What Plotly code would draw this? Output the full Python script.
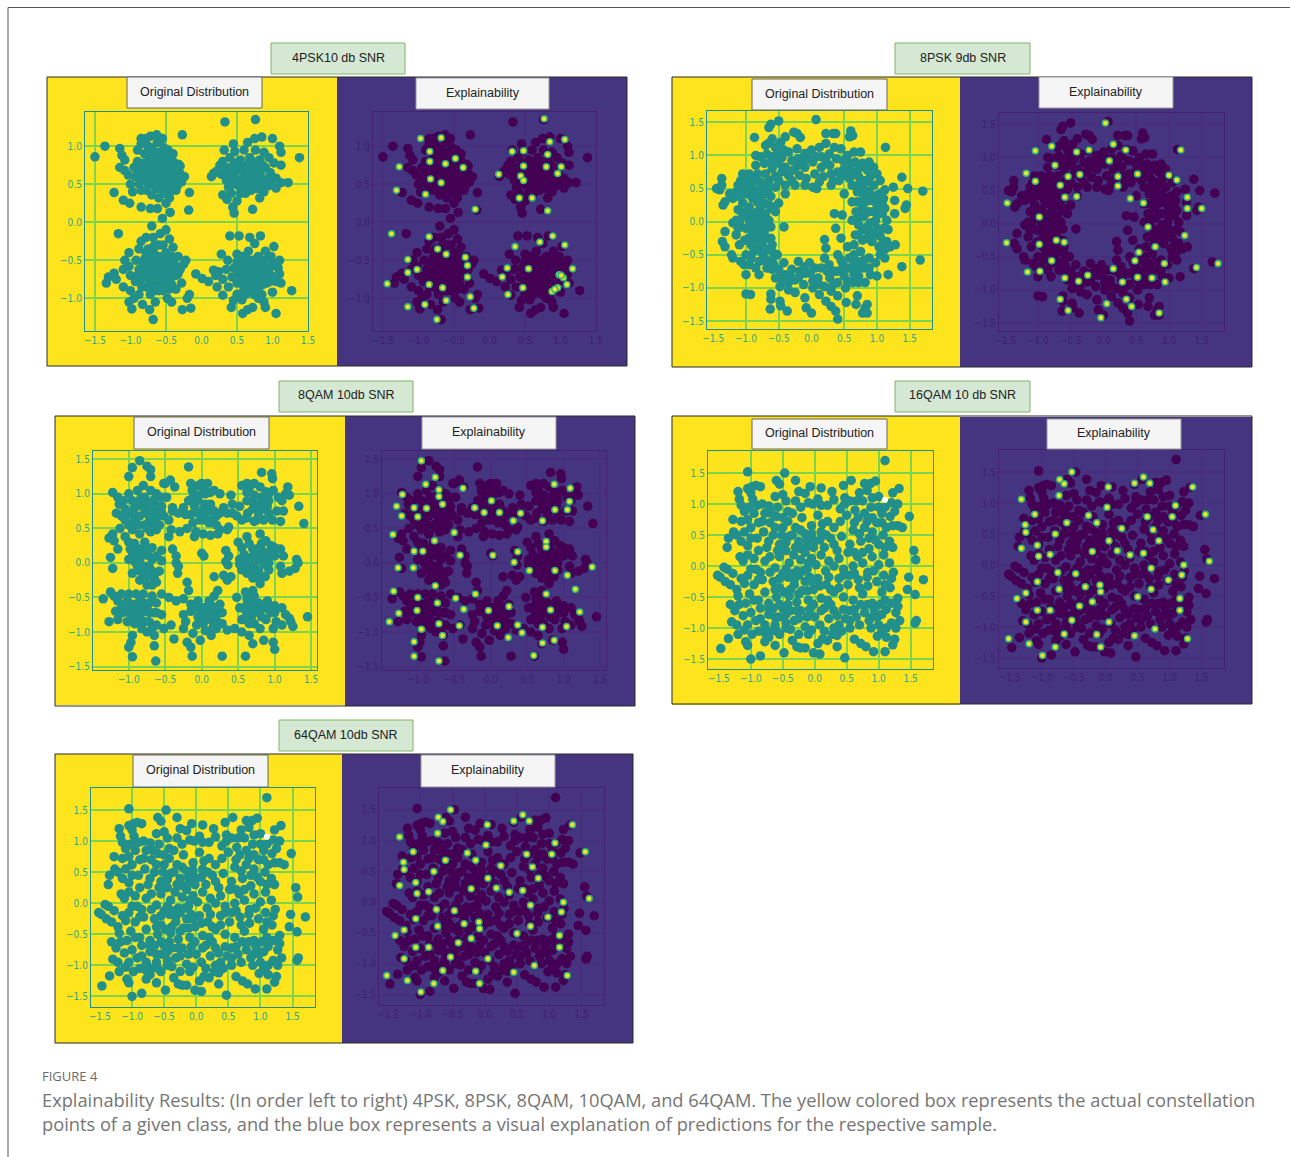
import plotly.graph_objects as go

# ---------- Data (x, y) ----------
PSK4_POINTS = [
(-1.5,.86),(-1.36,1.0),(-.27,1.15),(-1.23,.39),(-1.1,.29),(-1.01,.25),(-.85,.2),(-.72,.18),(-.62,.18),(-.44,.13),(-.55,.05),(-.18,.16),(-.17,.39),
(-1.15,.97),(-1.12,.88),(-1.08,.82),(-1.15,.72),(-1.08,.68),(-1.03,.62),(-1.0,.5),(-.97,.4),(-.9,.95),(-.9,.8),(-.95,.72),(-.93,.6),(-.88,.5),(-.85,.42),(-.85,1.1),(-.85,1.03),
(-.78,1.1),(-.75,1.0),(-.8,.9),(-.8,.78),(-.82,.66),(-.8,.55),(-.77,.42),(-.72,1.13),(-.7,.98),(-.72,.86),(-.73,.74),(-.72,.62),(-.7,.5),(-.7,.36),(-.63,1.15),(-.62,1.05),(-.64,.92),(-.63,.8),(-.65,.68),(-.62,.56),(-.63,.44),(-.6,.32),
(-.55,1.1),(-.53,.98),(-.56,.86),(-.55,.75),(-.54,.63),(-.56,.5),(-.52,.38),(-.5,.25),(-.47,.95),(-.46,.82),(-.47,.72),(-.46,.6),(-.47,.47),(-.45,.32),(-.4,.9),(-.38,.78),(-.39,.65),(-.38,.52),(-.36,.42),(-.32,.76),(-.3,.64),(-.28,.53),(-.3,.74),(-.24,.6),
(.33,1.32),(.76,1.35),(.32,.95),(.17,.64),(.14,.6),(.21,.67),(.26,.75),(.3,.8),(.28,.63),(.35,.55),(.35,.72),(.4,.85),(.4,.65),(.38,.46),(.3,.36),(.36,.3),(.42,.38),(.45,1.03),(.47,.93),(.47,.78),(.47,.58),(.44,.2),(.5,.28),(.46,.12),
(.52,.7),(.55,.82),(.52,.48),(.55,.38),(.6,.95),(.62,.75),(.6,.6),(.62,.5),(.62,.38),(.65,1.05),(.68,.85),(.7,.68),(.68,.55),(.7,.42),(.75,1.1),(.76,.95),(.75,.75),(.77,.6),(.76,.45),(.72,.17),(.82,.82),(.83,.65),(.83,.52),(.82,.32),(.88,.92),(.9,.72),(.9,.55),(.88,.4),(.85,1.12),(.95,.85),(.97,.65),(.95,.48),(1.02,.78),(1.0,1.1),(1.05,.58),(1.05,.45),(1.1,1.0),(1.12,.92),(1.12,.75),(1.12,.52),(1.22,.52),(1.38,.85),
(-1.17,-.15),(-1.34,-.8),(-1.31,-.72),(-1.23,-.67),(-1.2,-.75),(-1.1,-.62),(-1.08,-.5),(-1.1,-.85),(-1.02,-.4),(-1.02,-.58),(-1.0,-.7),(-1.0,-.9),(-1.02,-1.05),(-.95,-1.0),(-.98,-1.14),(-.93,-.78),(-.92,-.5),(-.88,-.35),(-.88,-.62),(-.88,-.95),(-.85,-.75),(-.85,-.25),(-.83,-1.08),(-.8,-.48),(-.8,-.62),(-.78,-.85),(-.78,-.2),(-.73,-1.15),(-.75,-.35),(-.72,-.7),(-.72,-.95),(-.7,-.55),(-.68,-.2),(-.68,-.38),(-.68,-.83),(-.7,-.05),(-.68,-1.28),(-.65,-1.05),(-.63,-.62),(-.62,-.48),(-.6,-.75),(-.6,-.9),(-.6,-.3),(-.58,-.15),(-.55,-.55),(-.55,-.68),(-.52,-.8),(-.5,-.4),(-.5,-.1),(-.48,-1.0),(-.48,-.62),(-.45,-.22),(-.45,-.5),(-.45,-.88),(-.42,-.72),(-.4,-.33),(-.42,-1.05),(-.38,-.55),(-.36,-.88),(-.33,-.45),(-.33,-.68),(-.3,-.62),(-.28,-.8),(-.25,-.55),(-.22,-.5),(-.2,-1.0),(-.17,-.95),(-.15,-1.13),(-.27,-1.15),
(-.08,-.68),(.01,-.74),(.1,-.78),(.2,-.7),(.17,-.63),(.24,-.65),(.22,-.85),(.3,-.75),(.28,-.42),(.3,-.96),(.37,-.5),(.35,-.62),(.38,-.85),(.4,-.18),(.43,-.72),(.46,-.6),(.45,-1.03),(.42,-1.12),(.5,-.42),(.5,-.52),(.5,-.8),(.5,-.95),(.53,-.18),(.55,-.65),(.58,-.72),(.57,-1.02),(.58,-1.2),(.62,-.45),(.62,-.58),(.62,-.85),(.62,-.95),(.65,-1.15),(.68,-.2),(.68,-.66),(.7,-.78),(.72,-.5),(.72,-.9),(.72,-1.12),(.75,-.28),(.77,-.6),(.78,-.7),(.78,-.85),(.8,-.45),(.8,-1.0),(.83,-.18),(.85,-.55),(.85,-.73),(.85,-.95),(.88,-1.05),(.9,-.38),(.92,-.62),(.92,-.8),(.9,-1.12),(.98,-.45),(.98,-.7),(1.0,-.92),(1.02,-.32),(1.02,-.55),(1.05,-.78),(1.08,-.6),(1.1,-.5),(1.1,-.68),(1.12,-.8),(1.05,-1.2),(1.27,-.9),
]
PSK4_CORE = [
(-.76,.92),(-.68,.8),(-.76,.66),(-.68,.68),(-.76,.52),(-.66,.56),(-.58,.92),(-.58,.68),(-.58,.44),(-.5,.8),(-.5,.68),(-.5,.55),(-.5,.42),(-.42,.85),(-.42,.7),(-.42,.58),(-.42,.42),(-.68,.92),(-.6,.74),(-.52,.9),(-.34,.6),(-.34,.48),(-.86,.72),(-.86,.6),(-.9,.66),
(.56,.72),(.56,.56),(.58,.44),(.66,.64),(.66,.46),(.72,.8),(.72,.6),(.72,.5),(.8,.7),(.8,.58),(.8,.44),(.86,.75),(.86,.48),(.94,.58),(.48,.66),(.44,.5),(.5,.55),(.6,.68),(.42,.72),(.98,.55),
(-.9,-.7),(-.82,-.55),(-.78,-.72),(-.78,-.4),(-.72,-.62),(-.72,-.45),(-.72,-.8),(-.66,-.7),(-.66,-.55),(-.66,-.3),(-.66,-.9),(-.6,-.6),(-.6,-.45),(-.6,-.82),(-.54,-.72),(-.54,-.45),(-.54,-.3),(-.54,-.9),(-.48,-.7),(-.48,-.52),(-.48,-.8),(-.42,-.62),(-.42,-.45),(-.42,-.82),(-.36,-.7),(-.82,-.65),(-.84,-.85),
(.5,-.62),(.52,-.72),(.58,-.52),(.58,-.62),(.58,-.82),(.58,-.92),(.64,-.68),(.64,-.76),(.64,-.52),(.68,-.88),(.7,-.58),(.7,-.72),(.74,-.68),(.74,-.8),(.74,-.95),(.8,-.52),(.8,-.65),(.8,-.78),(.8,-.9),(.86,-.62),(.86,-.82),(.9,-.7),(.9,-.5),(.96,-.6),(.96,-.78),(.56,-.45),(.66,-.38),
]
PSK4_HIGHLIGHTS = [
(-.97,1.1),(-.84,.93),(-.84,.8),(-.68,1.11),(-.62,.77),(-.83,.57),(-.9,.37),(-.48,.84),(-.37,.72),(-.68,.52),(-1.31,.42),(-1.27,.73),(-.2,.17),
(.48,.94),(.48,.74),(.44,.61),(.48,.55),(.85,1.06),(1.06,1.09),(.82,.89),(.8,.73),(1.01,.73),(.96,.64),(.13,.63),(.42,.32),(.6,.32),(.77,1.36),(.82,.15),(.32,.93),
(-1.38,-.15),(-.85,-.19),(-.73,-.35),(-.61,-.42),(-.34,-.46),(-.31,-.57),(-.31,-.72),(-1.15,-.49),(-1.15,-.66),(-1.02,-.62),(-1.44,-.81),(-.85,-.82),(-.66,-.86),(-.61,-1.03),(-.91,-1.08),(-1.15,-1.11),(-.27,-.98),(-.22,-1.13),(-.74,-1.28),
(.89,-.18),(1.06,-.3),(.36,-.32),(.71,-.26),(.25,-.6),(.18,-.72),(.55,-.61),(.98,-.69),(1.04,-.73),(.96,-.86),(.88,-.91),(1.09,-.82),(1.17,-.61),(.26,-.95),(.47,-.86),(1.01,-.7),(.92,-.88),
]

PSK8_POINTS = [
(-.5,1.52),(.07,1.54),(-.65,1.42),(-.62,1.47),(-.87,1.27),(-.7,1.15),(-.66,1.18),(-.6,1.25),(-.55,1.12),(-.47,1.2),(-.4,1.28),(-.27,1.35),(-.22,1.33),(-.17,1.27),(.22,1.33),(.33,1.33),(.37,1.33),(.6,1.37),(.63,1.3),(.58,1.28),(1.13,1.12),
(-.85,1.0),(-.78,.98),(-.72,.88),(-.85,.85),(-.95,.72),(-.82,.72),(-.7,.72),(-.6,.98),(-.55,1.0),(-.5,.88),(-.6,.8),(-.55,.68),(-.45,.97),(-.42,1.08),(-.35,1.05),(-.4,.82),(-.35,.7),(-.3,.92),(-.27,.78),(-.22,1.1),(-.2,.95),(-.2,.85),(-.18,.7),(-.1,1.03),(-.1,.82),(-.08,.65),(.0,1.08),(.02,.9),(.05,.72),(.12,1.12),(.15,.98),(.15,.82),(.18,.68),(.22,1.18),(.27,1.02),(.28,.85),(.3,.72),(.35,1.12),(.38,.95),(.4,.75),(.45,1.1),(.48,.92),(.5,.8),(.55,1.0),(.6,.88),(.65,1.05),(.67,.9),(.65,.72),(.75,1.05),(.78,.88),(.72,.68),(.85,.78),(.82,.62),(.95,.82),(.9,.68),(1.0,.72),(1.05,.62),(-.4,.55),(-.25,.55),(-.1,.55),(.02,.52),(.08,.5),(.3,.55),(.42,.62),
(-1.05,.72),(-1.08,.62),(-1.12,.55),(-1.0,.6),(-.9,.58),(-.78,.6),(-.65,.62),(-.55,.52),(-.4,.42),(-1.37,.65),(-1.37,.55),(-1.45,.5),(-1.4,.48),(-1.25,.42),(-1.32,.3),(-1.35,.25),(-1.15,.45),(-1.2,.35),(-1.05,.5),(-1.1,.38),(-1.12,.18),(-1.05,.28),(-1.0,.42),(-.92,.48),(-.9,.35),(-.95,.22),(-.82,.47),(-.83,.3),(-.82,.15),(-.72,.42),(-.72,.28),(-.7,.12),(-.62,.38),(-.6,.2),(-.58,.22),(-.55,.15),(-.5,.28),(-1.2,-.02),(-1.15,.02),(-1.05,.08),(-.95,.02),(-.85,.02),(-.75,-.02),(-.65,.02),
(-1.32,-.15),(-1.36,-.3),(-1.32,-.38),(-1.22,-.5),(-1.2,-.55),(-1.15,-.2),(-1.12,-.1),(-1.1,-.35),(-1.08,-.6),(-1.0,-.1),(-1.02,-.28),(-1.0,-.5),(-1.03,-.65),(-1.0,-.8),(-.9,-.18),(-.92,-.35),(-.92,-.55),(-.85,-.08),(-.83,-.28),(-.83,-.42),(-.85,-.7),(-.8,-.8),(-.72,-.15),(-.75,-.35),(-.72,-.55),(-.68,-.7),(-.62,-.08),(-.62,-.25),(-.6,-.45),(-.6,-.58),(-.6,-.72),(-.55,-.85),(-.42,-.08),
(-1.0,-1.09),(-.93,-1.1),(-.62,-1.09),(-.62,-1.17),(-.63,-1.32),(-.47,-1.27),(-.48,-1.2),(-.37,-1.35),(-.35,-1.03),(-.48,-.98),(-.5,-.72),(-.42,-.62),(-.4,-.8),(-.35,-.92),(-.3,-.72),(-.25,-1.07),(-.25,-.88),(-.2,-.6),(-.18,-.75),(-.12,-.95),(-.1,-1.15),(-.08,-1.3),(.0,-1.38),(-.03,-.62),(-.02,-.78),(.02,-1.0),(.1,-.85),(.12,-1.1),(.15,-.7),(.2,-.55),(.2,-.98),(.22,-1.2),(.27,-.65),(.28,-.85),(.3,-1.05),(.3,-1.28),(.4,-1.47),(.37,-1.35),(.38,-.75),(.4,-.5),(.4,-.92),(.4,-1.12),(.48,-.65),(.5,-.82),(.52,-1.0),(.53,-1.22),(.55,-.38),(.58,-.55),(.62,-.72),(.63,-.92),(.68,-1.25),(.7,-1.12),(.7,-.6),(.72,-.82),(.75,-.45),(.78,-1.38),(.82,-1.3),(.85,-1.25),(.85,-1.38),(.8,-.7),(.82,-.92),(.88,-.55),(.9,-.8),(.98,-.62),
(1.0,-.82),(1.17,-.8),(1.38,-.68),(1.66,-.58),(.45,-.25),(.37,-.1),(.2,-.27),(.22,-.4),(.35,.12),(.47,.1),(.5,.42),
(.62,.55),(.7,.45),(.62,.3),(.68,.15),(.62,.02),(.72,-.05),(.67,-.2),(.65,-.35),(.78,.52),(.8,.38),(.78,.22),(.8,.08),(.78,-.12),(.78,-.28),(.85,.6),(.88,.45),(.9,.32),(.88,.15),(.9,-.02),(.88,-.15),(.92,-.3),(.95,.55),(1.0,.4),(1.0,.25),(1.02,.12),(1.0,-.1),(1.05,-.22),(1.03,-.38),(1.12,.48),(1.1,.35),(1.12,.2),(1.15,.02),(1.17,-.12),(1.15,-.3),(1.05,-.5),(1.12,-.55),(1.12,-.42),(1.2,-.38),(1.28,-.35),(1.27,.12),(1.27,.32),(1.25,.52),(1.38,.67),(1.45,.25),(1.43,.2),(1.47,.5),(1.7,.46),
]
PSK8_CORE = [
(-.5,1.05),(-.68,1.02),(-.62,.9),(-.45,.75),(-.5,.62),(-.3,.62),(-.12,.92),(-.05,.95),(.08,.98),(.22,.92),(.12,.6),(.33,.62),(.48,.7),(.58,.65),(.58,.78),(.72,.8),(.88,.9),
(-.88,.65),(-.72,.52),(-.65,.5),(-.95,.55),(-.88,.42),(-.78,.38),(-.78,.22),(-.65,.25),(-.9,.12),(-1.0,.15),(-.75,.08),(-1.1,-.02),(-.95,-.08),(-.8,-.1),(-.68,-.08),(-.78,-.22),(-.95,-.25),(-.88,-.45),(-.75,-.48),(-.68,-.42),(-.68,-.25),(-.8,-.6),(-.95,-.65),(-.7,-.6),(-.6,-.35),(-.52,-.5),(-.58,-.65),
(-.5,-.85),(-.42,-.9),(-.32,-.82),(-.2,-.85),(-.1,-.78),(.05,-.7),(-.1,-.68),(.02,-.9),(.12,-.95),(.24,-.75),(.33,-.95),(.33,-.75),(.45,-.75),(.45,-.58),(.55,-.7),(.55,-.9),(.65,-.8),(.7,-.72),(.75,-.62),(.65,-.5),(.8,-.58),(.88,-.7),(.65,-.62),(.72,-.92),
(.72,.55),(.7,.3),(.72,.12),(.7,.02),(.72,-.2),(.82,.3),(.85,.45),(.95,.15),(.98,.02),(.85,-.08),(.85,-.25),(.95,-.2),(.95,.32),(1.08,.12),(1.08,.28),(1.05,.42),(1.1,-.1),(1.1,-.3),
]
PSK8_HIGHLIGHTS = [
(-1.04,1.1),(-.79,1.17),(-.41,1.08),(-.22,1.11),(.15,1.2),(.34,1.11),(1.18,1.11),(.09,.95),(-.74,.88),(-1.18,.76),(-1.04,.64),(-.66,.58),(-.54,.71),(-.36,.74),(.22,.71),(.22,.57),(.52,.75),(1.0,.73),(1.12,.66),(-.59,.4),(-.41,.41),(-1.47,.31),(1.28,.4),(1.28,.23),(.61,.31),(.41,.38),(-.98,.1),(1.5,.23),(1.24,-.18),(.68,-.05),(-1.48,-.29),(-.98,-.31),(-.72,-.25),(-.6,-.28),(.79,-.35),(.54,-.43),(-.79,-.56),(.48,-.56),(.93,-.6),(1.75,-.6),(1.42,-.66),(.15,-.68),(-1.16,-.73),(-.97,-.72),(-.59,-.82),(-.38,-.87),(-.24,-.78),(.29,-.88),(.52,-.81),(.74,-.82),(.94,-.88),(.35,-1.14),(.43,-1.25),(.05,-1.21),(-.54,-1.31),(-.66,-1.14),(-.04,-1.42),(.85,-1.35),(.03,1.52),
]

QAM8_POINTS = [
(-.85,1.48),(-.95,1.38),(-.75,1.4),(-.7,1.35),(-1.0,1.25),(-.7,1.25),(-.18,1.39),(.82,1.31),(.96,1.29),(.97,1.22),(-.43,1.2),(-.52,1.15),(-.37,1.1),
(-1.22,1.02),(-1.15,.95),(-1.13,.85),(-1.07,.9),(-1.05,.78),(-1.0,1.0),(-.95,.9),(-.92,.8),(-.9,.68),(-.88,1.05),(-.83,.95),(-.8,1.12),(-.75,.85),(-.77,.72),(-.72,.6),(-.78,.55),(-.7,1.05),(-.65,.92),(-.65,.75),(-.62,.65),(-.58,.55),(-.62,1.0),(-.55,.82),(-.52,.68),(-.5,1.15),(-.48,.95),(-.45,.62),(-.4,.8),(-.4,.75),(-1.17,.72),(-1.1,.68),(-1.05,.62),(-1.0,.55),(-.95,.48),(-.87,.55),(-.85,.42),(-.7,.45),(-.62,.48),
(-.15,1.15),(-.13,1.05),(-.18,.9),(-.12,.95),(-.05,1.12),(-.05,.9),(.0,1.15),(.03,1.05),(.05,.85),(.08,1.15),(.12,1.02),(.17,1.05),(.25,1.0),(-.25,.8),(-.32,.72),(-.22,.7),(-.15,.7),(-.12,.58),(-.05,.72),(-.02,.62),(.05,.7),(.1,.75),(.1,.58),(.17,.75),(.2,.55),(.25,.72),(.25,.48),(.3,.8),(.35,.72),(.35,.48),(.42,.85),(.42,.72),(.4,.98),(.37,.52),
(.55,1.12),(.62,1.15),(.65,1.05),(.72,1.15),(.72,.98),(.8,1.1),(.82,.95),(.88,1.03),(.92,.9),(.98,1.05),(1.05,.95),(.48,.68),(.52,.82),(.55,.62),(.62,.9),(.63,.72),(.7,.78),(.72,.6),(.78,.85),(.78,.68),(.85,.78),(.85,.62),(.92,.72),(.97,.62),(1.03,.75),(1.1,.9),(1.12,.75),(1.18,1.1),(1.2,.98),(1.15,1.0),(1.33,.82),(1.4,.57),(1.08,.6),
(-1.27,.36),(-1.22,.42),(-1.2,.32),(-1.15,.2),(-1.25,.08),(-1.12,.5),(-1.05,.38),(-1.0,.3),(-.95,.15),(-.92,.02),(-1.0,.05),(-.92,.28),(-.85,.2),(-.85,.05),(-.85,-.12),(-.78,.3),(-.77,.12),(-.78,-.05),(-.75,-.2),(-.68,.22),(-.68,.05),(-.68,-.12),(-.62,-.28),(-.65,-.22),(-1.22,-.08),(-.95,-.15),(-.85,-.25),(-.55,.18),(-.55,.03),(-.58,-.12),(-.4,.2),(-.35,.1),(-.35,.0),(-.32,-.05),(-.33,-.15),(-.45,.38),(-.42,.48),(-.3,.45),(-.2,.5),(-.1,.38),(-.08,.45),(.02,.42),(.12,.4),(.22,.42),
(.0,.14),(.03,.1),(.33,.18),(.37,.1),(.33,.02),(.36,-.03),(.35,-.25),(.4,-.2),(.5,.3),(.55,.22),(.52,.05),(.52,-.02),(.55,-.1),(.58,.12),(.62,.38),(.65,.28),(.68,.08),(.68,-.05),(.7,-.22),(.75,.2),(.78,.05),(.78,-.12),(.8,.42),(.82,.28),(.85,.15),(.85,-.02),(.88,.32),(.92,.15),(.92,0),(.95,.25),(1.0,.1),(1.0,.22),(1.08,.2),(1.12,.1),(1.08,-.05),(.87,-.2),(.8,-.3),(.7,-.4),(1.1,-.15),(1.2,-.12),(1.28,-.08),(1.32,.0),(1.3,.05),(-.2,-.28),(-.18,-.4),(.17,-.2),(.3,-.18),
(-1.35,-.52),(-1.25,-.42),(-1.2,-.48),(-1.15,-.55),(-1.1,-.45),(-1.05,-.6),(-1.0,-.45),(-.95,-.6),(-.9,-.45),(-.85,-.55),(-.8,-.45),(-.75,-.65),(-.68,-.48),(-.62,-.58),(-.55,-.45),(-.45,-.5),(-.35,-.55),(-.25,-.52),(-1.27,-.85),(-1.18,-.7),(-1.15,-.82),(-1.08,-.72),(-1.02,-.85),(-1.0,-.72),(-.92,-.72),(-.92,-.88),(-.85,-.78),(-.82,-.95),(-.78,-.68),(-.72,-.85),(-.75,-1.0),(-.65,-.72),(-.62,-.9),(-.65,-1.05),(-.55,-.75),(-.52,-.95),(-.42,-.9),(-.38,-1.1),(-.65,-1.2),(-.95,-1.05),(-.97,-1.15),(-1.0,-1.22),(-.95,-1.36),(-.63,-1.42),
(-.25,-.75),(-.22,-.85),(-.25,-.95),(-.2,-1.15),(-.15,-.7),(-.15,-.6),(-.12,-1.02),(-.15,-1.22),(-.13,-1.35),(-.05,-.55),(-.05,-.78),(-.07,-.9),(-.02,-1.12),(.03,-.65),(.05,-.82),(.05,-.98),(.1,-.55),(.12,-.72),(.13,-1.05),(.18,-.65),(.2,-.82),(.2,-.95),(.17,-.48),(.22,-.4),(.28,-.72),(.28,-.88),(.28,-1.35),(.35,-.97),(.45,-.95),(.48,-.5),(.52,-.65),(.55,-.82),(.55,-1.0),(.6,-.42),(.62,-.6),(.62,-.75),(.65,-1.05),(.6,-1.35),(.68,-.5),(.7,-.68),(.72,-.88),(.7,-1.17),(.78,-.58),(.78,-.72),(.8,-.95),(.85,-1.12),(.85,-.65),(.88,-.82),(.9,-.55),(.95,-.72),(.98,-.95),(.98,-1.15),(1.0,-.62),(1.02,-.85),(1.0,-1.25),(1.1,-.65),(1.1,-.9),(1.15,-.75),(1.2,-.8),(1.25,-.92),(1.22,-.85),(1.45,-.78),
]
QAM8_CORE = [
(-.92,.62),(-.82,.82),(-.85,.68),(-.78,.95),(-.72,.75),(-.7,.65),(-.68,.88),(-.6,.82),(-.55,.72),(-.65,.55),(-.98,.72),(-.55,.95),(-.85,.9),(-.75,.5),
(.05,1.0),(-.05,.98),(.02,.78),(-.1,.82),(.12,.85),(.2,.68),(.05,.62),(.15,.62),(.62,1.02),(.7,.88),(.62,.65),(.78,.78),(.85,.9),(.75,.62),(.9,.82),(.92,1.0),
(-.85,.12),(-.78,.2),(-.72,.1),(-.92,.1),(-.72,-.05),(-.8,-.15),(-.75,-.32),(-.68,-.32),(-.98,.2),(-.62,.1),(-.88,-.05),
(.75,.1),(.72,-.05),(.7,.2),(.82,.05),(.82,.18),(.62,.05),(.6,-.05),(.78,-.22),(.7,-.12),(.88,.05),(.95,.12),(.92,-.1),(.62,-.15),(.58,.02),
(-1.1,-.65),(-1.02,-.55),(-.95,-.8),(-.9,-.65),(-.85,-.65),(-.82,-.72),(-.78,-.85),(-.72,-.58),(-.72,-.72),(-.68,-.95),(-.62,-.72),(-.85,-.88),(-.8,-.58),(-1.0,-.62),
(.0,-.7),(.08,-.65),(.08,-.78),(.15,-.85),(.12,-.6),(.22,-.72),(.25,-.6),(.02,-.88),(.15,-.95),(-.08,-.65),
(.62,-.52),(.7,-.58),(.68,-.78),(.75,-.65),(.82,-.62),(.82,-.78),(.72,-.48),(.6,-.68),(.65,-.88),(.92,-.68),(.88,-.6),(1.0,-.72),
]
QAM8_HIGHLIGHTS = [
(-.95,1.48),(-.76,1.24),(-.89,1.14),(-.71,1.06),(-.71,.96),(-.66,.85),(-1.21,.99),(-1.29,.82),(-1.22,.68),(-1.05,.8),(-.88,.79),(-1.0,.67),(-.38,1.08),(-.22,.8),(.01,.9),(-.09,.73),(.12,.73),(.31,.61),(.41,.72),(.71,.61),(.87,1.14),(1.09,1.08),(1.08,.89),(1.05,.77),(.88,.77),(-.5,.44),(-.77,.32),(-1.34,.41),(.76,.31),(.76,.23),(-1.05,.17),(-.93,.17),(-.42,.11),(.03,.11),(.37,.16),(.32,.01),(-1.27,-.07),(-1.06,-.07),(1.39,-.06),(.88,-.11),(.53,-.11),(1.05,-.18),(-.76,-.33),(-1.33,-.41),(.76,-.45),(1.16,-.38),(-1.0,-.5),(-.73,-.58),(-.48,-.51),(-.21,-.45),(.25,-.63),(-1.01,-.69),(-.37,-.67),(-.03,-.69),(.82,-.68),(1.22,-.71),(-1.39,-.85),(-1.26,-.73),(-.71,-.88),(-.43,-.91),(.09,-.91),(.37,-.9),(.71,-.93),(1.04,-.92),(-.95,-.96),(-.66,-1.05),(.24,-1.08),(.43,-1.01),(.87,-1.12),(.71,-1.16),(-1.05,-1.14),(-1.05,-1.35),(-.71,-1.42),(.59,-1.34),
]

QAM16_POINTS = [
(1.1,1.7),(-1.05,1.52),(-.47,1.5),(-.3,1.38),(-.6,1.38),(-.55,1.32),(.57,1.38),(.45,1.3),(.78,1.33),(.87,1.33),(.95,1.37),(.82,1.22),(1.32,1.25),(1.22,1.18),(-1.2,1.2),(-1.05,1.25),(-.98,1.28),(-.92,1.3),(-.85,1.28),(-.07,1.28),(.1,1.26),(-.25,1.2),(-.15,1.17),(.27,1.2),(.47,1.1),(.55,1.05),(.65,1.05),(.75,1.05),(.7,1.18),(.9,1.1),(1.0,1.12),(1.2,1.02),(1.3,1.0),(1.0,.95),(.88,.95),
(-1.18,1.08),(-1.15,.98),(-1.1,.88),(-1.0,1.18),(-.97,1.08),(-.9,.98),(-.82,1.0),(-.72,.97),(-.62,1.12),(-.58,.95),(-.5,1.15),(-.45,1.05),(-.42,.88),(-.3,1.05),(-.22,.95),(-.1,1.02),(-.03,1.0),(.05,1.08),(.1,.98),(.2,.98),(.3,1.07),(.4,.92),(.47,1.0),(.63,.9),(.78,.85),(.9,.78),(1.05,.85),(1.1,.95),(1.18,.8),(1.25,.88),(1.48,.8),
(-1.35,.45),(-1.37,.3),(-1.28,.75),(-1.27,.55),(-1.22,.5),(-1.15,.72),(-1.15,.4),(-1.1,.55),(-1.05,.33),(-1.0,.62),(-.95,.85),(-.9,.45),(-.88,.7),(-.8,.55),(-.78,.85),(-.75,.3),(-.7,.7),(-.65,.5),(-.6,.8),(-.55,.35),(-.5,.62),(-.42,.72),(-.4,.48),(-.35,.85),(-.3,.62),(-.25,.4),(-.2,.78),(-.15,.52),(-.12,.32),(-.05,.65),(.0,.4),(.05,.82),(.1,.55),(.15,.3),(.2,.72),(.25,.45),(.3,.62),(.35,.25),(.4,.72),(.42,.48),(.5,.82),(.55,.35),(.6,.58),(.68,.78),(.72,.4),(.78,.62),(.85,.28),(.9,.55),(.97,.7),(1.0,.35),(1.07,.5),(1.12,.62),(1.17,.4),(1.22,.65),(1.3,.65),(1.37,.62),
(-1.17,.15),(-1.12,.08),(-1.05,.18),(-1.0,-.05),(-.95,.12),(-.88,.25),(-.85,-.1),(-.78,.08),(-.7,.15),(-.62,-.03),(-.55,.15),(-.5,-.12),(-.45,.25),(-.4,.05),(-.33,.18),(-.28,-.08),(-.22,.1),(-.15,.22),(-.12,-.05),(-.05,.12),(.02,.02),(.1,.18),(.17,-.08),(.22,.08),(.3,.0),(.38,.12),(.45,-.05),(.52,.22),(.6,.0),(.67,.15),(.75,.05),(.83,-.1),(.9,.15),(1.0,.02),(1.08,.18),(1.17,.05),(1.22,.3),(1.23,-.1),(1.2,-.2),(1.55,.25),(1.58,.1),
(-1.52,-.15),(-1.48,-.18),(-1.42,-.02),(-1.37,-.05),(-1.4,-.25),(-1.32,-.3),(-1.28,-.12),(-1.22,-.38),(-1.2,-.48),(-1.15,-.2),(-1.1,-.28),(-1.05,-.15),(-1.02,-.45),(-.95,-.3),(-.88,-.55),(-.82,-.22),(-.78,-.42),(-.72,-.6),(-.65,-.25),(-.6,-.5),(-.55,-.35),(-.5,-.68),(-.42,-.18),(-.4,-.48),(-.32,-.3),(-.28,-.58),(-.2,-.4),(-.15,-.25),(-.1,-.55),(-.02,-.38),(.05,-.2),(.1,-.52),(.18,-.3),(.25,-.62),(.3,-.42),(.38,-.2),(.45,-.5),(.52,-.3),(.6,-.55),(.68,-.22),(.75,-.45),(.83,-.32),(.9,-.6),(.97,-.25),(1.05,-.42),(1.1,-.55),(1.18,-.35),(1.2,-.6),(1.3,-.52),(1.45,-.38),(1.47,-.18),(1.57,-.46),(1.7,-.22),
(-1.32,-.62),(-1.25,-.72),(-1.22,-.95),(-1.3,-.9),(-1.18,-.62),(-1.12,-.8),(-1.08,-.6),(-1.05,-.95),(-1.0,-.75),(-.95,-.55),(-.92,-.88),(-.85,-.68),(-.78,-.95),(-.72,-.78),(-.65,-.68),(-.62,-.95),(-.55,-.82),(-.45,-.92),(-.38,-.72),(-.32,-.88),(-.22,-.72),(-.15,-.98),(-.08,-.7),(.0,-.82),(.08,-.95),(.15,-.68),(.22,-.85),(.3,-.72),(.38,-.95),(.45,-.7),(.55,-.88),(.62,-.7),(.7,-.95),(.78,-.75),(.85,-.88),(.93,-.7),(1.0,-.95),(1.05,-.78),(1.12,-.7),(1.2,-.92),(1.27,-.75),(1.33,-.88),(1.3,-.65),(1.57,-.92),(1.59,-.88),
(-1.47,-1.33),(-1.35,-1.17),(-1.2,-1.1),(-1.1,-1.03),(-1.08,-1.22),(-1.05,-1.28),(-1.0,-1.5),(-.85,-1.45),(-.98,-1.1),(-.88,-1.05),(-.78,-1.22),(-.72,-1.15),(-.7,-1.05),(-.62,-1.28),(-.55,-1.1),(-.48,-1.4),(-.45,-1.0),(-.35,-1.2),(-.28,-1.3),(-.22,-1.32),(-.15,-1.32),(-.1,-1.1),(-.05,-1.03),(-.02,-1.4),(.08,-1.42),(.05,-1.25),(.12,-1.18),(.2,-1.2),(.28,-1.1),(.35,-1.3),(.42,-1.05),(.47,-1.48),(.55,-1.0),(.62,-1.18),(.72,-1.25),(.8,-1.3),(.88,-1.0),(.92,-1.38),(.98,-1.13),(1.05,-1.05),(1.1,-1.38),(1.12,-1.15),(1.22,-1.27),(1.27,-1.0),(1.25,-1.18),
]
QAM16_CORE = [
(-.62,.62),(-.52,.5),(-.45,.38),(-.35,.5),(-.3,.3),(-.22,.58),(-.22,.28),(-.12,.42),(-.05,.52),(-.02,.3),(.08,.42),(.18,.5),(.12,.68),(.3,.35),(-.72,.4),(-.58,.25),(-.82,.72),(-.68,.85),(-.5,.78),(-1.05,.75),(-1.03,.95),(-1.0,.45),(.62,.7),(.7,.52),(.82,.72),(.85,.45),(.62,.22),(.75,.22),(.95,.42),(1.1,.3),(1.05,.7),
(-.45,-.05),(-.38,-.12),(-.32,-.22),(-.25,-.15),(-.18,-.08),(-.1,.05),(-.08,-.18),(-.55,-.2),(-.7,-.1),(-.62,-.38),(-.48,-.42),(-.38,-.38),(-.25,-.45),(-.12,-.4),(-.05,-.25),(.08,-.32),(.22,-.18),(.25,-.38),(.38,-.35),(.45,-.15),(.55,-.15),(.62,-.12),(.7,-.35),(.82,-.18),(.92,-.08),(1.08,-.15),(1.1,-.3),(-.88,-.22),(-.92,-.05),
(-.85,-.85),(-.72,-.68),(-.62,-.82),(-.55,-.62),(-.45,-.78),(-.42,-.62),(-.28,-.72),(-.25,-.85),(-.12,-.82),(-.02,-.62),(.1,-.72),(.2,-.55),(.35,-.8),(.48,-.85),(.55,-.72),(.65,-.82),(.72,-.62),(.82,-.62),(.9,-.82),(1.02,-.62),(-.6,-1.05),(-.38,-1.02),(-.25,-1.1),(.15,-1.05),(.3,-1.0),(.35,-1.12),(-.78,-1.08),(1.12,-1.0),(.98,-.82),
]
QAM16_WHITE = [(1.1,1.07)]
QAM16_HIGHLIGHTS = [
(-.53,1.5),(-.72,1.38),(-.65,1.31),(.45,1.32),(.59,1.42),(.69,1.32),(1.36,1.26),(.04,1.26),(-1.32,1.06),(-.73,1.12),(1.09,.96),(1.56,.82),(-1.11,.82),(-.27,.8),(.02,.93),(.65,.78),(1.04,.78),(-1.26,.65),(-1.25,.53),(-.61,.68),(-.14,.68),(.25,.59),(-.79,.5),(.74,.57),(.05,.39),(.83,.39),(-1.07,.32),(-1.32,.27),(-.87,.17),(-1.05,.14),(-.21,.22),(.18,.23),(.38,.16),(.59,.19),(1.22,0),(1.62,.06),(.71,-.05),(-.47,-.14),(-.75,-.12),(1.19,-.16),(.98,-.24),(-.09,-.32),(-.32,-.35),(-1.07,-.27),(-.73,-.39),(-.08,-.43),(.71,-.39),(-1.25,-.45),(-1.39,-.54),(.5,-.51),(1.16,-.54),(-.21,-.59),(-.41,-.66),(1.16,-.73),(-1.07,-.73),(-.87,-.73),(-.53,-.89),(-1.25,-.92),(.05,-.92),(.77,-1.03),(-.65,-1.11),(-.14,-1.12),(.45,-1.14),(1.28,-1.19),(-1.2,-1.27),(-1.52,-1.19),(-.79,-1.32),(-.08,-1.32),(-.99,-1.46),
]

PANEL_TITLES = ["4PSK10 db SNR", "8PSK 9db SNR", "8QAM 10db SNR", "16QAM 10 db SNR", "64QAM 10db SNR"]
ORIGINAL_LABEL = "Original Distribution"
EXPLAIN_LABEL = "Explainability"
TICK_VALUES = [-1.5, -1.0, -0.5, 0.0, 0.5, 1.0, 1.5]
TICK_LABELS = ["\u22121.5", "\u22121.0", "\u22120.5", "0.0", "0.5", "1.0", "1.5"]
CAPTION_HEAD = "FIGURE 4"
CAPTION_LINES = [
    "Explainability Results: (In order left to right) 4PSK, 8PSK, 8QAM, 10QAM, and 64QAM. The yellow colored box represents the actual constellation",
    "points of a given class, and the blue box represents a visual explanation of predictions for the respective sample.",
]

# ---------- Layout (page pixels) ----------
W, H = 1290, 1157
YELLOW, PURPLE = "#fde41c", "#45347f"
TEAL, DARK = "#21908c", "#440154"
GRID_Y, GRID_P = "#7ed34f", "#4a2e7e"
TICK_Y, TICK_P = "#2fa58c", "#3d1f74"

PANELS = [
 dict(title=(271,405,43,74), yel=(47,337,77,366), pur=(337,627,77,366), obox=(127,262,77,108), ebox=(416,549,78,109),
      lp=(85,308,112,331), rp=(373,596,112,331), xr=(-1.64,1.5), yr=(-1.43,1.45),
      xt=TICK_VALUES, yt=TICK_VALUES[1:-1], xg=[-1.5,-.5,.5,1.5], yg=[-1,-.5,0,.5,1], pts=PSK4_POINTS+PSK4_CORE, hi=PSK4_HIGHLIGHTS, white=[]),
 dict(title=(895,1030,43,74), yel=(672,960,77,367), pur=(960,1252,77,367), obox=(752,887,79,110), ebox=(1039,1173,77,108),
      lp=(707,932,111,329), rp=(999,1224,113,331), xr=(-1.595,1.84), yr=(-1.62,1.67),
      xt=TICK_VALUES, yt=TICK_VALUES, xg=[-1,-.5,.5,1,1.5], yg=TICK_VALUES, pts=PSK8_POINTS+PSK8_CORE, hi=PSK8_HIGHLIGHTS, white=[]),
 dict(title=(279,413,381,412), yel=(55,345,416,705), pur=(345,635,416,706), obox=(134,269,417,449), ebox=(422,556,417,449),
      lp=(93,317,451,670), rp=(382,606,451,670), xr=(-1.49,1.58), yr=(-1.55,1.62),
      xt=TICK_VALUES[1:], yt=TICK_VALUES, xg=[-1,-.5,0,.5,1,1.5], yg=TICK_VALUES, pts=QAM8_POINTS+QAM8_CORE, hi=QAM8_HIGHLIGHTS, white=[]),
 dict(title=(895,1030,381,412), yel=(672,960,416,705), pur=(960,1252,417,704), obox=(752,887,419,449), ebox=(1047,1181,419,449),
      lp=(708,933,451,669), rp=(999,1224,450,668), xr=(-1.67,1.85), yr=(-1.66,1.855),
      xt=TICK_VALUES, yt=TICK_VALUES, xg=[-1,-.5,0,.5,1,1.5], yg=TICK_VALUES, pts=QAM16_POINTS+QAM16_CORE, hi=QAM16_HIGHLIGHTS, white=QAM16_WHITE),
 dict(title=(279,413,720,751), yel=(55,342,754,1043), pur=(342,633,754,1043), obox=(133,268,755,787), ebox=(421,555,755,787),
      lp=(91,315,788,1007), rp=(379,604,788,1005), xr=(-1.64,1.85), yr=(-1.67,1.855),
      xt=TICK_VALUES, yt=TICK_VALUES, xg=[-1,-.5,0,.5,1,1.5], yg=TICK_VALUES, pts=QAM16_POINTS+QAM16_CORE, hi=QAM16_HIGHLIGHTS, white=QAM16_WHITE),
]

px = lambda v: v / W
py = lambda v: 1 - v / H

fig = go.Figure()
shapes, annos = [], []

def rect(box, fill, line=None, lw=1, layer="below"):
    shapes.append(dict(type="rect", xref="paper", yref="paper", x0=px(box[0]), x1=px(box[1]),
                       y0=py(box[3]), y1=py(box[2]), fillcolor=fill, layer=layer,
                       line=dict(color=line or fill, width=lw if line else 0)))

def text(box, s, size=12.5, color="#222222"):
    annos.append(dict(xref="paper", yref="paper", x=px((box[0]+box[1])/2), y=py((box[2]+box[3])/2 - 1),
                      text=s, showarrow=False, xanchor="center", yanchor="middle",
                      font=dict(family="Liberation Sans", size=size, color=color)))

def axes(n, plot, p, grid, tick, frame, lw):
    suffix = "" if n == 1 else str(n)
    common = dict(showgrid=False, zeroline=False, showline=True, mirror=True, linecolor=frame, linewidth=lw,
                  ticks="", tickfont=dict(family="DejaVu Sans Condensed, DejaVu Sans", size=10, color=tick))
    xlabels = [TICK_LABELS[TICK_VALUES.index(v)] for v in p["xt"]]
    ylabels = [TICK_LABELS[TICK_VALUES.index(v)] for v in p["yt"]]
    fig.layout["xaxis"+suffix] = dict(common, domain=[px(plot[0]), px(plot[1])], range=list(p["xr"]), anchor="y"+suffix,
        tickmode="array", tickvals=p["xt"], ticktext=xlabels,
        minor=dict(tickmode="array", tickvals=p["xg"], showgrid=True, gridcolor=grid, gridwidth=1.5, ticks=""))
    fig.layout["yaxis"+suffix] = dict(common, domain=[py(plot[3]), py(plot[2])], range=list(p["yr"]), anchor="x"+suffix,
        tickmode="array", tickvals=p["yt"], ticktext=ylabels,
        minor=dict(tickmode="array", tickvals=p["yg"], showgrid=True, gridcolor=grid, gridwidth=1.5, ticks=""))

n = 0
for i, p in enumerate(PANELS):
    rect(p["yel"], YELLOW)
    rect(p["pur"], PURPLE)
    shapes.append(dict(type="rect", xref="paper", yref="paper", x0=px(p["yel"][0]), x1=px(p["pur"][1]),
                       y0=py(p["pur"][3]), y1=py(p["yel"][2]), line=dict(color="#2b2b2b", width=1), layer="below"))
    rect(p["title"], "#d5e8d4", "#82b366", 1, "above")
    rect(p["obox"], "#f5f5f5", "#666666", 1, "above")
    rect(p["ebox"], "#f5f5f5", "#999999", 1, "above")
    text(p["title"], PANEL_TITLES[i])
    text(p["obox"], ORIGINAL_LABEL)
    text(p["ebox"], EXPLAIN_LABEL)

    n += 1
    axes(n, p["lp"], p, GRID_Y, TICK_Y, TEAL, 1.2)
    s = "" if n == 1 else str(n)
    fig.add_trace(go.Scatter(x=[a for a, _ in p["pts"]], y=[b for _, b in p["pts"]], mode="markers",
                             xaxis="x"+s, yaxis="y"+s, marker=dict(size=9.5, color=TEAL)))
    if p["white"]:
        fig.add_trace(go.Scatter(x=[a for a, _ in p["white"]], y=[b for _, b in p["white"]], mode="markers",
                                 xaxis="x"+s, yaxis="y"+s, marker=dict(size=6, color="white")))
    n += 1
    axes(n, p["rp"], p, GRID_P, TICK_P, "#45206f", 1)
    s = str(n)
    fig.add_trace(go.Scatter(x=[a for a, _ in p["pts"]], y=[b for _, b in p["pts"]], mode="markers",
                             xaxis="x"+s, yaxis="y"+s, marker=dict(size=9.5, color=DARK)))
    fig.add_trace(go.Scatter(x=[a for a, _ in p["hi"]], y=[b for _, b in p["hi"]], mode="markers",
                             xaxis="x"+s, yaxis="y"+s,
                             marker=dict(size=6, color="#f4e61e", line=dict(color="#2fb47c", width=1.5))))

# page frame
shapes.append(dict(type="line", xref="paper", yref="paper", x0=px(8), x1=1, y0=py(7.5), y1=py(7.5), line=dict(color="#555555", width=1), layer="below"))
shapes.append(dict(type="line", xref="paper", yref="paper", x0=px(8), x1=px(8), y0=py(7.5), y1=0, line=dict(color="#555555", width=1), layer="below"))

CAPTION_FONT = "Open Sans"
annos.append(dict(xref="paper", yref="paper", x=px(40), y=py(1076), text=CAPTION_HEAD, showarrow=False, xanchor="left", yanchor="middle",
                  font=dict(family=CAPTION_FONT, size=13, color="#6b6b6b")))
for y, line in zip([1099, 1123], CAPTION_LINES):
    annos.append(dict(xref="paper", yref="paper", x=px(40), y=py(y), text=line, showarrow=False, xanchor="left", yanchor="middle",
                      font=dict(family=CAPTION_FONT, size=18.25, color="#757575")))

fig.update_layout(width=W, height=H, margin=dict(l=0, r=0, t=0, b=0, autoexpand=False), paper_bgcolor="white", plot_bgcolor="rgba(0,0,0,0)",
                  showlegend=False, hovermode=False, shapes=shapes, annotations=annos)
fig.write_html("out.html", config={"displayModeBar": False}, post_script="document.body.style.margin='0';")
